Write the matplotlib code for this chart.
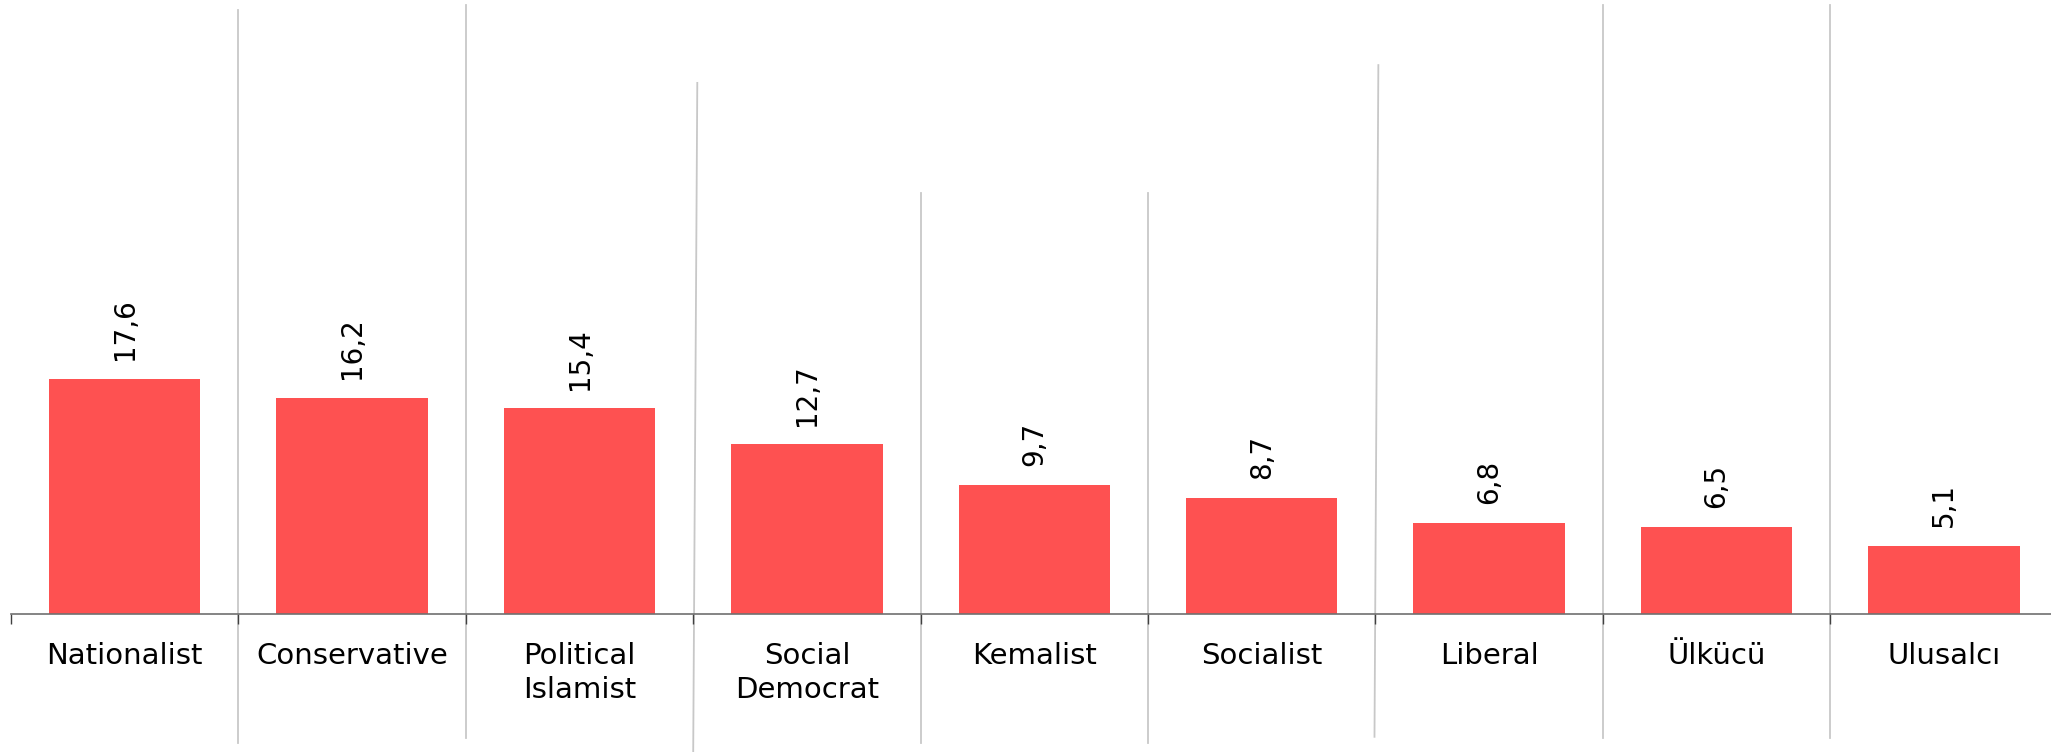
import numpy as np
import matplotlib.pyplot as plt
from matplotlib import transforms

categories = ["Nationalist", "Conservative", "Political\nIslamist", "Social\nDemocrat",
              "Kemalist", "Socialist", "Liberal", "Ülkücü", "Ulusalcı"]
values = [17.6, 16.2, 15.4, 12.7, 9.7, 8.7, 6.8, 6.5, 5.1]

# decorative separator lines between the categories (axes-fraction extents)
sep_top = [0.984, 0.992, 0.865, 0.686, 0.686, 0.894, 0.992, 0.992]
sep_bottom = [-0.210, -0.202, -0.225, -0.210, -0.210, -0.200, -0.202, -0.202]
sep_top_dx = [0, 0, 0.018, 0, 0, 0.013, 0, 0]
sep_bottom_dx = [0, 0, 0, 0, 0, -0.004, 0, 0]

W, H, dpi = 2051, 752, 100
fig = plt.figure(figsize=(W / dpi, H / dpi), dpi=dpi)
plt.rcParams['font.family'] = ['DejaVu Sans']

step = 227.4
left_px = 11
base_px = 614
ax = fig.add_axes([left_px / W, (H - base_px) / H, 9 * step / W, base_px / H])

x = np.arange(len(categories))
ax.bar(x, values, width=0.665, color='#fe5151', zorder=2)
ax.set_xlim(-0.5, 8.5)
ax.set_ylim(0, 46)

for xi, v in zip(x, values):
    ax.annotate(("%.1f" % v).replace('.', ','), (xi, v), xytext=(0, 13.5),
                textcoords='offset points', rotation=90, ha='center', va='bottom',
                fontsize=20, color='black')

trans = transforms.blended_transform_factory(ax.transData, ax.transAxes)
for i in range(len(categories) - 1):
    b = i + 0.5
    ax.plot([b + sep_bottom_dx[i], b + sep_top_dx[i]], [sep_bottom[i], sep_top[i]],
            transform=trans, color='#c8c8c8', lw=1.3, clip_on=False, zorder=1)

for s in ['top', 'right', 'left']:
    ax.spines[s].set_visible(False)
ax.spines['bottom'].set_color('#707070')
ax.spines['bottom'].set_linewidth(1.2)
ax.set_yticks([])

ax.set_xticks(x)
ax.set_xticklabels(categories, fontsize=21, linespacing=1.3)
ax.tick_params(axis='x', which='major', length=0, pad=20)
ax.set_xticks(np.arange(-0.5, 9, 1), minor=True)
ax.tick_params(axis='x', which='minor', length=7, width=1, color='#404040', direction='out')

fig.savefig('out.png', dpi=dpi, facecolor='white')
